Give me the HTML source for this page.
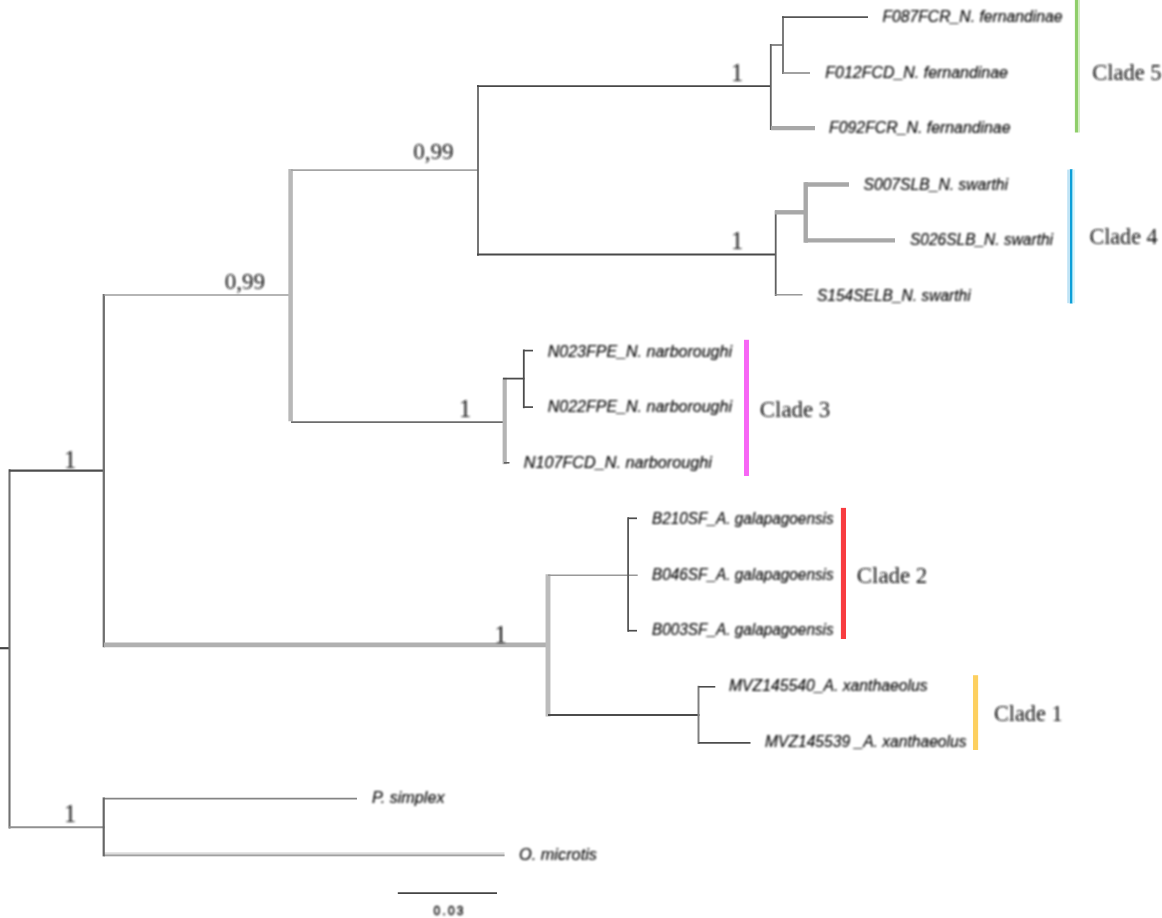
<!DOCTYPE html>
<html lang="en"><head><meta charset="utf-8"><title>Phylogenetic tree</title>
<style>
html,body{margin:0;padding:0;background:#fff;}
body{width:1162px;height:918px;overflow:hidden;}
svg{display:block;}
.tip{font-family:"Liberation Sans",Arial,sans-serif;font-style:italic;font-size:15.6px;fill:#000;stroke:#000;stroke-width:0.15px;}
.cl{font-family:"Liberation Serif","Times New Roman",serif;font-size:22.6px;fill:#111;}
.sp{font-family:"Liberation Serif","Times New Roman",serif;font-size:22.6px;fill:#111;}
.sc{font-family:"Liberation Sans",Arial,sans-serif;font-size:12px;fill:#000;stroke:#000;stroke-width:0.4px;}
</style></head><body>
<svg width="1162" height="918" viewBox="0 0 1162 918">
<defs><filter id="bt" x="-2%" y="-2%" width="104%" height="104%"><feGaussianBlur stdDeviation="0.8"/></filter></defs>
<rect width="1162" height="918" fill="#fff"/>
<g>
<g fill="none" stroke-linecap="butt">
<line x1="0" y1="648.2" x2="9.5" y2="648.2" stroke="#444" stroke-width="2.2"/>
<line x1="9.5" y1="469.3" x2="9.5" y2="828.4" stroke="#707070" stroke-width="2.1"/>
<line x1="9" y1="470.6" x2="104.5" y2="470.6" stroke="#4c4c4c" stroke-width="2.1"/>
<line x1="103.8" y1="294" x2="103.8" y2="647.2" stroke="#707070" stroke-width="2.3"/>
<line x1="104" y1="295" x2="291" y2="295" stroke="#9c9c9c" stroke-width="1.5"/>
<line x1="290.6" y1="169" x2="290.6" y2="421.2" stroke="#b8b8b8" stroke-width="4.5"/>
<line x1="291" y1="170.1" x2="478" y2="170.1" stroke="#a4a4a4" stroke-width="1.7"/>
<line x1="478" y1="85" x2="478" y2="255.7" stroke="#666" stroke-width="1.8"/>
<line x1="477" y1="86.1" x2="771" y2="86.1" stroke="#484848" stroke-width="1.8"/>
<line x1="477" y1="254.5" x2="776" y2="254.5" stroke="#484848" stroke-width="1.8"/>
<line x1="770.8" y1="44" x2="770.8" y2="130" stroke="#606060" stroke-width="1.8"/>
<line x1="771" y1="45" x2="783" y2="45" stroke="#6c6c6c" stroke-width="1.6"/>
<line x1="783" y1="16.2" x2="783" y2="74" stroke="#6c6c6c" stroke-width="1.8"/>
<line x1="782" y1="17.2" x2="868" y2="17.2" stroke="#555" stroke-width="1.8"/>
<line x1="783" y1="73" x2="810" y2="73" stroke="#909090" stroke-width="1.7"/>
<line x1="771" y1="128.2" x2="815" y2="128.2" stroke="#a8a8a8" stroke-width="4.3"/>
<line x1="775.7" y1="210.5" x2="775.7" y2="296" stroke="#606060" stroke-width="1.8"/>
<line x1="775" y1="212.3" x2="806" y2="212.3" stroke="#a8a8a8" stroke-width="4.4"/>
<line x1="805.7" y1="182.2" x2="805.7" y2="242.7" stroke="#a8a8a8" stroke-width="4.4"/>
<line x1="805" y1="184.5" x2="849" y2="184.5" stroke="#a8a8a8" stroke-width="4.4"/>
<line x1="805" y1="240.4" x2="895" y2="240.4" stroke="#a8a8a8" stroke-width="4.4"/>
<line x1="775" y1="294.8" x2="802.5" y2="294.8" stroke="#909090" stroke-width="1.4"/>
<line x1="291" y1="422.2" x2="505" y2="422.2" stroke="#6c6c6c" stroke-width="1.8"/>
<line x1="504.7" y1="377.8" x2="504.7" y2="464.2" stroke="#b4b4b4" stroke-width="4.2"/>
<line x1="503" y1="378.6" x2="524.5" y2="378.6" stroke="#4c4c4c" stroke-width="1.8"/>
<line x1="523.8" y1="349.5" x2="523.8" y2="408.2" stroke="#4c4c4c" stroke-width="1.8"/>
<line x1="523.8" y1="350.6" x2="533" y2="350.6" stroke="#4c4c4c" stroke-width="1.7"/>
<line x1="523.8" y1="407.1" x2="533" y2="407.1" stroke="#4c4c4c" stroke-width="1.7"/>
<line x1="504" y1="462.8" x2="509.5" y2="462.8" stroke="#606060" stroke-width="1.6"/>
<line x1="104" y1="644.9" x2="549" y2="644.9" stroke="#b0b0b0" stroke-width="4.7"/>
<line x1="548" y1="574.3" x2="548" y2="716.5" stroke="#bcbcbc" stroke-width="4.9"/>
<line x1="548" y1="575.3" x2="637.7" y2="575.3" stroke="#999" stroke-width="1.5"/>
<line x1="628.1" y1="517.3" x2="628.1" y2="631.7" stroke="#585858" stroke-width="1.8"/>
<line x1="628" y1="518.3" x2="637" y2="518.3" stroke="#4c4c4c" stroke-width="1.7"/>
<line x1="628" y1="630.7" x2="637" y2="630.7" stroke="#4c4c4c" stroke-width="1.7"/>
<line x1="548" y1="715" x2="699.5" y2="715" stroke="#4c4c4c" stroke-width="1.8"/>
<line x1="698.5" y1="685.8" x2="698.5" y2="744" stroke="#808080" stroke-width="2.0"/>
<line x1="698.5" y1="686.8" x2="715.3" y2="686.8" stroke="#4c4c4c" stroke-width="1.6"/>
<line x1="698.5" y1="742.9" x2="750.5" y2="742.9" stroke="#4c4c4c" stroke-width="1.6"/>
<line x1="9" y1="827.2" x2="104.5" y2="827.2" stroke="#909090" stroke-width="1.9"/>
<line x1="104" y1="798.6" x2="357" y2="798.6" stroke="#848484" stroke-width="1.8"/>
<line x1="104" y1="854.2" x2="504.5" y2="854.2" stroke="#dcdcdc" stroke-width="4.0"/>
<line x1="104" y1="855.3" x2="504.5" y2="855.3" stroke="#a0a0a0" stroke-width="1.8"/>
<line x1="103.7" y1="797.4" x2="103.7" y2="856.4" stroke="#666" stroke-width="2.2"/>
<line x1="397.8" y1="893.1" x2="497" y2="893.1" stroke="#444" stroke-width="1.8"/>
</g>
<rect x="1074.9" y="0" width="3.3" height="132.5" fill="#8fce6a"/>
<rect x="1078.2" y="0" width="1.7" height="132.5" fill="#cfeabf"/>
<rect x="1069.8" y="169.2" width="2.8" height="134.3" fill="#0d9fd8"/>
<rect x="1067.2" y="169.6" width="2.6" height="133.6" fill="#bfe3f5"/>
<rect x="1072.6" y="169.6" width="2.4" height="133.6" fill="#d8f5fd"/>
<rect x="744.0" y="339.8" width="5.0" height="136.2" fill="#f766f5"/>
<rect x="840.9" y="507.9" width="5.1" height="131.1" fill="#f83c40"/>
<rect x="973.0" y="675.2" width="5.1" height="74.8" fill="#fdd060"/>
</g><g filter="url(#bt)">
<text class="tip" x="882.4" y="21.7" textLength="180.1" lengthAdjust="spacingAndGlyphs">F087FCR_N. fernandinae</text>
<text class="tip" x="825.3" y="78.0" textLength="182.7" lengthAdjust="spacingAndGlyphs">F012FCD_N. fernandinae</text>
<text class="tip" x="829" y="133.2" textLength="181.5" lengthAdjust="spacingAndGlyphs">F092FCR_N. fernandinae</text>
<text class="tip" x="863.5" y="189.7" textLength="144.5" lengthAdjust="spacingAndGlyphs">S007SLB_N. swarthi</text>
<text class="tip" x="910" y="244.9" textLength="143.0" lengthAdjust="spacingAndGlyphs">S026SLB_N. swarthi</text>
<text class="tip" x="817" y="300.7" textLength="153.6" lengthAdjust="spacingAndGlyphs">S154SELB_N. swarthi</text>
<text class="tip" x="547.7" y="356.9" textLength="184.3" lengthAdjust="spacingAndGlyphs">N023FPE_N. narboroughi</text>
<text class="tip" x="547.7" y="412.4" textLength="184.3" lengthAdjust="spacingAndGlyphs">N022FPE_N. narboroughi</text>
<text class="tip" x="523.8" y="468.4" textLength="188.0" lengthAdjust="spacingAndGlyphs">N107FCD_N. narboroughi</text>
<text class="tip" x="652" y="524.4" textLength="181.7" lengthAdjust="spacingAndGlyphs">B210SF_A. galapagoensis</text>
<text class="tip" x="652" y="580.4" textLength="181.7" lengthAdjust="spacingAndGlyphs">B046SF_A. galapagoensis</text>
<text class="tip" x="652" y="635.4" textLength="181.7" lengthAdjust="spacingAndGlyphs">B003SF_A. galapagoensis</text>
<text class="tip" x="729" y="691.4" textLength="198.5" lengthAdjust="spacingAndGlyphs">MVZ145540_A. xanthaeolus</text>
<text class="tip" x="765" y="747.4" textLength="201.5" lengthAdjust="spacingAndGlyphs">MVZ145539 _A. xanthaeolus</text>
<text class="tip" x="372" y="803.4" textLength="72.5" lengthAdjust="spacingAndGlyphs">P. simplex</text>
<text class="tip" x="519" y="859.9" textLength="78.0" lengthAdjust="spacingAndGlyphs">O. microtis</text>
<text class="cl" x="1092.3" y="80.0" textLength="69.2" lengthAdjust="spacingAndGlyphs">Clade 5</text>
<text class="cl" x="1089.4" y="243.8" textLength="68.2" lengthAdjust="spacingAndGlyphs">Clade 4</text>
<text class="cl" x="759.8" y="417.0" textLength="70.5" lengthAdjust="spacingAndGlyphs">Clade 3</text>
<text class="cl" x="856.8" y="583.4" textLength="70.5" lengthAdjust="spacingAndGlyphs">Clade 2</text>
<text class="cl" x="994" y="721.4" textLength="68.5" lengthAdjust="spacingAndGlyphs">Clade 1</text>
<text class="sp" style="font-size:24.5px" x="737.2" y="81.2" text-anchor="middle">1</text>
<text class="sp" style="font-size:24.5px" x="737" y="248.7" text-anchor="middle">1</text>
<text class="sp" x="413.2" y="159.1" textLength="40.4" lengthAdjust="spacingAndGlyphs">0,99</text>
<text class="sp" x="224.8" y="288.8" textLength="40.2" lengthAdjust="spacingAndGlyphs">0,99</text>
<text class="sp" style="font-size:24.5px" x="465" y="417.4" text-anchor="middle">1</text>
<text class="sp" style="font-size:24.5px" x="70" y="468.1" text-anchor="middle">1</text>
<text class="sp" style="font-size:24.5px" x="500.5" y="642.5" text-anchor="middle">1</text>
<text class="sp" style="font-size:24.5px" x="70" y="822.2" text-anchor="middle">1</text>
<text class="sc" x="433.5" y="914.6" textLength="30" lengthAdjust="spacing">0.03</text>
</g></svg></body></html>
